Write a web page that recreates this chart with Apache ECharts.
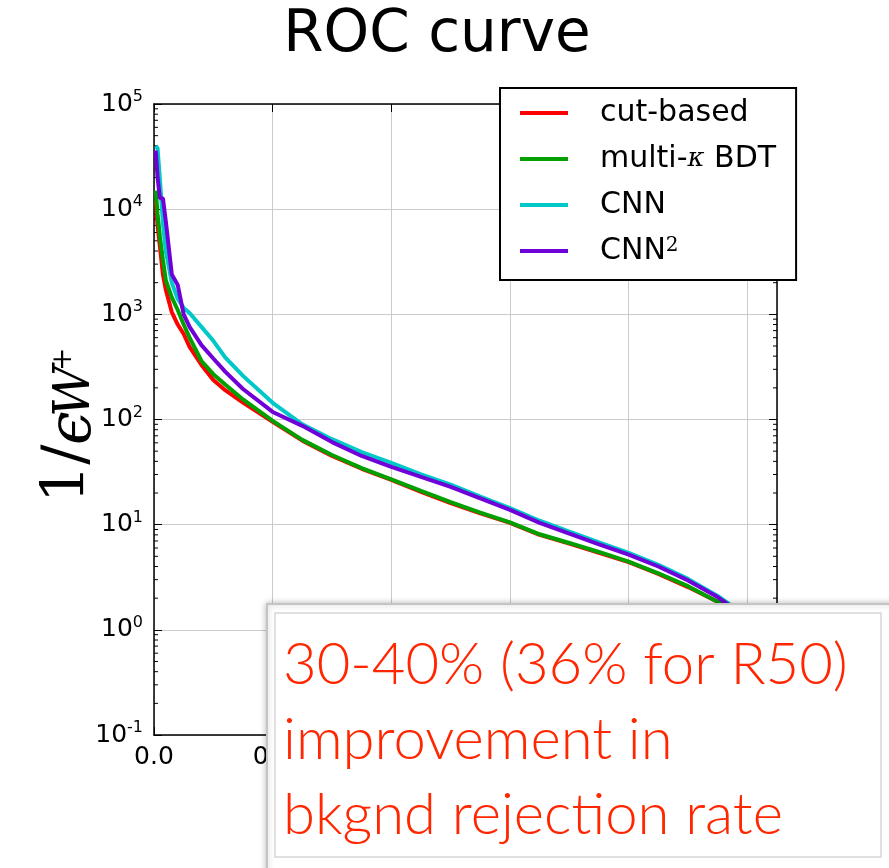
<!DOCTYPE html>
<html><head><meta charset="utf-8">
<script src="https://cdn.jsdelivr.net/npm/echarts@6/dist/echarts.min.js"></script>
<style>html,body{margin:0;padding:0;background:#fff}#c{width:889px;height:868px}</style>
</head><body><div id="c"></div>
<script>
// ---- data ----
const signalEff = [0.003, 0.006, 0.01, 0.015, 0.02, 0.03, 0.04, 0.05, 0.06, 0.08, 0.10, 0.12, 0.15, 0.20, 0.25, 0.30, 0.35, 0.40, 0.45, 0.50, 0.55, 0.60, 0.65, 0.70, 0.75, 0.80, 0.85, 0.90, 0.95, 0.98, 1.00];
const cutBased      = [12000, 7000, 4400, 2400, 1700, 1050, 800, 650, 490, 330, 238, 190, 145, 95, 63, 45, 34, 26.7, 20.5, 16, 12.8, 10.4, 8.0, 6.6, 5.4, 4.4, 3.4, 2.55, 1.85, 1.45, 1.0];
const multiKappaBDT = [15000, 9000, 5500, 3300, 2100, 1450, 1100, 800, 600, 360, 270, 215, 155, 97, 64, 46, 34.5, 27, 21, 16.4, 13, 10.5, 8.1, 6.7, 5.5, 4.45, 3.45, 2.6, 1.85, 1.45, 1.0];
const cnn           = [40000, 38000, 19000, 7400, 4000, 2000, 1400, 1150, 1030, 760, 560, 390, 260, 144, 90, 65, 49, 38.6, 30, 24, 18.5, 14.4, 10.9, 8.6, 6.8, 5.4, 4.15, 3.05, 2.1, 1.6, 1.0];
const cnnSquared    = [36000, 20000, 12700, 12700, 7600, 2400, 1900, 1000, 760, 510, 380, 285, 195, 118, 87, 61, 45, 35.5, 28.5, 22.9, 17.8, 13.8, 10.4, 8.2, 6.5, 5.2, 4.0, 2.95, 2.05, 1.55, 1.0];
const seriesNames   = ['cut-based', 'multi-κ BDT', 'CNN', 'CNN2'];
const seriesColors  = ['#ff0000', '#00a000', '#00c8c8', '#7000d8'];
const xTickLabels   = ['0.0', '0.2', '0.4', '0.6', '0.8', '1.0'];
const minorMantissas = [2, 3, 4, 5, 6, 7, 8, 9];
const decades = [0.1, 1, 10, 100, 1000, 10000];
const titleText = 'ROC curve';
const noteText = '30-40% (36% for R50)\nimprovement in\nbkgnd rejection rate';

const X_MAX = 1.05;
const minorTickValues = [];
decades.forEach(d => minorMantissas.forEach(m => minorTickValues.push([0, +(m * d).toPrecision(3)])));

const pairs = ys => signalEff.map((x, i) => [x, ys[i]]);
const allSeries = [cutBased, multiKappaBDT, cnn, cnnSquared];

const FONT = 'DejaVu Sans';
const axisCommonX = {
  type: 'value', min: 0, max: X_MAX, interval: 0.2,
  axisLine: { show: true, onZero: false, lineStyle: { color: '#000', width: 1.5 } },
  axisTick: { show: true, inside: true, length: 8, lineStyle: { color: '#000', width: 1 } }
};
const axisCommonY = {
  type: 'log', logBase: 10, min: 0.1, max: 100000,
  axisLine: { show: true, onZero: false, lineStyle: { color: '#000', width: 1.5 } },
  axisTick: { show: true, inside: true, length: 8, lineStyle: { color: '#000', width: 1 } }
};

const option = {
  animation: false,
  backgroundColor: '#fff',
  grid: { left: 154, right: 112, top: 104, bottom: 133, show: false },
  xAxis: [
    Object.assign({}, axisCommonX, {
      position: 'bottom',
      splitLine: { show: true, lineStyle: { color: '#cbcbcb', width: 1 } },
      axisLabel: {
        showMaxLabel: false, margin: 10, color: '#000', fontSize: 25, fontFamily: FONT,
        formatter: v => { const i = Math.round(v / 0.2); return (Math.abs(v - i * 0.2) < 1e-6 && xTickLabels[i]) ? xTickLabels[i] : ''; }
      }
    }),
    Object.assign({}, axisCommonX, {
      position: 'top', splitLine: { show: false }, axisLabel: { show: false }
    })
  ],
  yAxis: [
    Object.assign({}, axisCommonY, {
      position: 'left',
      splitLine: { show: true, lineStyle: { color: '#cbcbcb', width: 1 } },
      axisLabel: {
        margin: 11,
        formatter: v => '{b|10}{s|' + Math.round(Math.log10(v)) + '}',
        rich: {
          b: { fontSize: 25, fontFamily: FONT, color: '#000', lineHeight: 30 },
          s: { fontSize: 16, fontFamily: FONT, color: '#000', lineHeight: 16, verticalAlign: 'top' }
        }
      }
    }),
    Object.assign({}, axisCommonY, {
      position: 'right', splitLine: { show: false }, axisLabel: { show: false }
    })
  ],
  legend: {
    orient: 'vertical', left: 500, top: 88, z: 30,
    data: seriesNames,
    icon: 'rect', itemWidth: 48, itemHeight: 4, itemGap: 16,
    padding: [10, 20, 14, 20],
    backgroundColor: '#fff', borderColor: '#000', borderWidth: 2, borderRadius: 0,
    selectedMode: false,
    formatter: n => n === 'multi-κ BDT' ? '{n|multi-}{k|κ}{n| BDT}' : (n === 'CNN2' ? '{n|CNN}{s|2}' : '{n|' + n + '}'),
    textStyle: {
      fontSize: 30, fontFamily: FONT, color: '#000', lineHeight: 30, padding: [0, 0, 0, 27],
      rich: {
        n: { fontSize: 30, fontFamily: FONT, color: '#000', lineHeight: 30 },
        k: { fontSize: 26, fontFamily: 'DejaVu Serif', fontStyle: 'italic', color: '#000', lineHeight: 30 },
        s: { fontSize: 20, fontFamily: 'DejaVu Serif', color: '#000', lineHeight: 20, verticalAlign: 'top' }
      }
    }
  },
  series: allSeries.map((ys, i) => ({
    name: seriesNames[i], type: 'line', data: pairs(ys),
    xAxisIndex: 0, yAxisIndex: 0,
    showSymbol: false, symbol: 'none', color: seriesColors[i],
    lineStyle: { color: seriesColors[i], width: 4 }, z: 3 + i, silent: true
  })).concat([{
    type: 'custom', name: 'minorTicks', xAxisIndex: 0, yAxisIndex: 0, silent: true, z: 2,
    data: minorTickValues,
    renderItem: (params, api) => {
      const v = api.value(1);
      const l = api.coord([0, v]);
      const r = api.coord([X_MAX, v]);
      return {
        type: 'group', children: [
          { type: 'line', shape: { x1: l[0], y1: l[1], x2: l[0] + 4, y2: l[1] }, style: { stroke: '#000', lineWidth: 1 } },
          { type: 'line', shape: { x1: r[0], y1: r[1], x2: r[0] - 4, y2: r[1] }, style: { stroke: '#000', lineWidth: 1 } }
        ]
      };
    }
  }]),
  graphic: [
    { type: 'text', x: 437, y: 7, z: 50, style: { text: titleText, font: '58px "DejaVu Sans"', fill: '#000', align: 'center', verticalAlign: 'top' } },
    { type: 'group', x: 0, y: 500, rotation: Math.PI / 2, z: 50, children: [
      { type: 'text', x: -3, y: 68, style: { text: '1/', font: '60px "DejaVu Serif"', fill: '#000', align: 'left', verticalAlign: 'middle' } },
      { type: 'text', x: 55, y: 74, style: { text: 'ϵ', font: 'italic 60px "DejaVu Serif"', fill: '#000', align: 'left', verticalAlign: 'middle' } },
      { type: 'text', x: 83, y: 76, style: { text: 'W', font: 'italic 50px "DejaVu Serif"', fill: '#000', align: 'left', verticalAlign: 'middle' } },
      { type: 'text', x: 129, y: 64, style: { text: '+', font: '28px "DejaVu Serif"', fill: '#000', align: 'left', verticalAlign: 'middle' } }
    ] },
    { type: 'rect', z: 100, shape: { x: 267, y: 604, width: 640, height: 280 },
      style: { fill: '#fff', stroke: '#c4c4c4', lineWidth: 2, shadowBlur: 6, shadowColor: 'rgba(0,0,0,0.25)' } },
    { type: 'rect', z: 101, shape: { x: 275, y: 613, width: 606, height: 244 },
      style: { fill: 'none', stroke: '#e0e0e0', lineWidth: 2 } },
    { type: 'text', z: 102, x: 283, y: 628,
      style: { text: noteText, font: '300 58px Lato', fill: '#ff2600', lineHeight: 75, align: 'left', verticalAlign: 'top' } }
  ]
};
const chart = echarts.init(document.getElementById('c'));
chart.setOption(option);
</script>
</body></html>
